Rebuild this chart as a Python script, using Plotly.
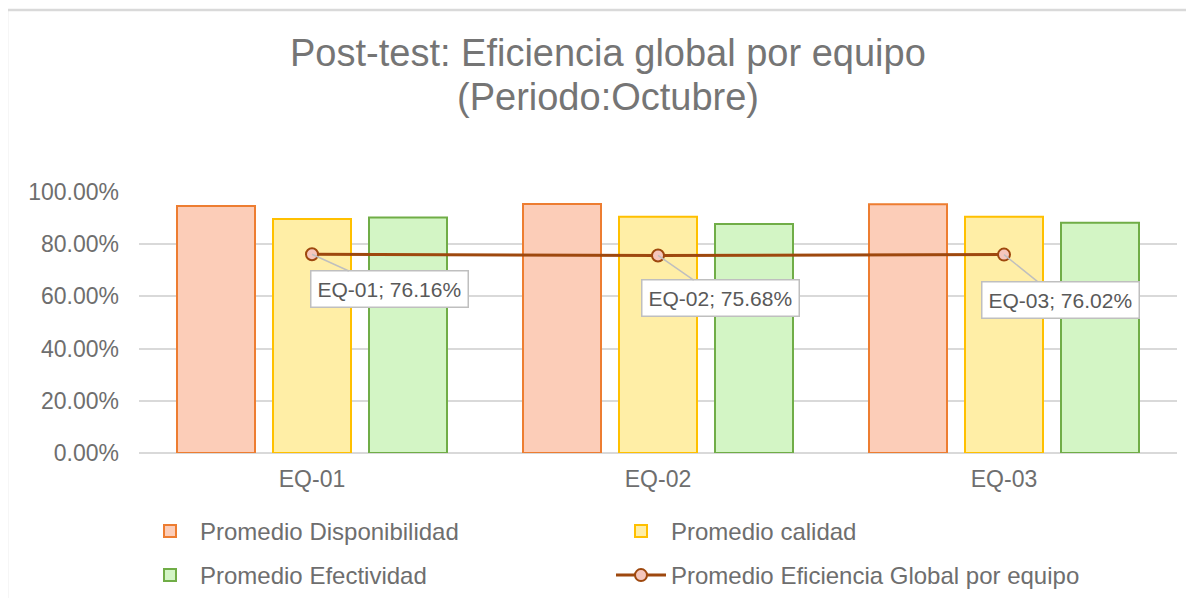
import plotly.graph_objects as go

categories = ["EQ-01", "EQ-02", "EQ-03"]
disponibilidad = [0.946, 0.954, 0.953]
calidad = [0.897, 0.905, 0.905]
efectividad = [0.902, 0.877, 0.882]
eficiencia = [0.7616, 0.7568, 0.7602]

series_names = ["Promedio Disponibilidad", "Promedio calidad", "Promedio Efectividad",
                "Promedio Eficiencia Global por equipo"]
title_line1 = "Post-test: Eficiencia global por equipo"
title_line2 = "(Periodo:Octubre)"
y_ticks = [0, 0.2, 0.4, 0.6, 0.8, 1.0]

W, H = 1194, 598
OFF = 8  # page body margin
# target plot area in page pixels
PL, PR, PT, PB = 139, 1177, 192, 453
ML, MT = PL - OFF, PT - OFF
MR, MB = W - (PR - OFF), H - (PB - OFF)
PW, PH = PR - PL, PB - PT


def px_x(x):  # page pixel -> paper x
    return (x - PL) / PW


def px_y(y):  # page pixel -> paper y
    return (PB - y) / PH


TXT = "#6e6e6e"
FONT = "Liberation Sans, Arial, sans-serif"

fig = go.Figure()
bar_styles = [
    (disponibilidad, "#FCCDB8", "#ED7D31", "legend"),
    (calidad, "#FFEEA6", "#FFC000", "legend"),
    (efectividad, "#D3F5C5", "#70AD47", "legend2"),
]
for (vals, fill, edge, lg), name in zip(bar_styles, series_names[:3]):
    fig.add_trace(go.Bar(
        x=categories, y=vals, name=name, legend=lg,
        marker=dict(color=fill, line=dict(color=edge, width=2)),
    ))

fig.add_trace(go.Scatter(
    x=categories, y=eficiencia, name=series_names[3], mode="lines+markers",
    legend="legend2",
    line=dict(color="#9E480E", width=3),
    marker=dict(symbol="circle", size=12, color="#F5C6BC",
                line=dict(color="#9E480E", width=2)),
))

offsets = [(77, 35), (62, 43), (56, 45)]
for cat, v, (ax, ay) in zip(categories, eficiencia, offsets):
    fig.add_annotation(
        x=cat, y=v, text=f"{cat}; {v*100:.2f}%", showarrow=True,
        ax=ax, ay=ay, arrowhead=0, arrowwidth=1.5, arrowcolor="#BFBFBF",
        bgcolor="white", bordercolor="#BFBFBF", borderwidth=1.5, borderpad=6,
        font=dict(size=21, color="#595959", family=FONT),
    )

# title, two lines placed separately to match line spacing
for txt, yc in [(title_line1, 53), (title_line2, 97)]:
    fig.add_annotation(
        xref="paper", yref="paper", x=px_x(608), y=px_y(yc),
        xanchor="center", yanchor="middle", showarrow=False, text=txt,
        font=dict(size=38, color="#757575", family=FONT),
    )

# outer chart frame
fig.add_shape(type="rect", xref="paper", yref="paper",
              x0=px_x(7), x1=px_x(W + 30),
              y0=px_y(H + 30), y1=px_y(10),
              line=dict(color="#D9D9D9", width=2.5), fillcolor="rgba(0,0,0,0)",
              layer="below")

legend_common = dict(orientation="h", xanchor="left", yanchor="top",
                     entrywidth=406, entrywidthmode="pixels", itemwidth=50,
                     traceorder="normal", bgcolor="rgba(0,0,0,0)",
                     font=dict(size=24, color=TXT, family=FONT))

fig.update_layout(
    width=W, height=H,
    margin=dict(l=ML, r=MR, t=MT, b=MB, autoexpand=False),
    paper_bgcolor="white", plot_bgcolor="white",
    font=dict(family=FONT, color=TXT, size=23),
    barmode="group", bargap=0.1676, bargroupgap=0.1875,
    showlegend=True,
    legend=dict(x=px_x(140), y=px_y(509), **legend_common),
    legend2=dict(x=px_x(140), y=px_y(553), **legend_common),
    xaxis=dict(showgrid=False, showline=False, ticks="", ticklabelstandoff=10,
               tickfont=dict(size=23, color=TXT)),
    yaxis=dict(range=[0, 1.0], tickvals=y_ticks, tickformat=".2%",
               showgrid=True, gridcolor="#D9D9D9", gridwidth=1.5,
               zeroline=True, zerolinecolor="#D9D9D9", zerolinewidth=1.5,
               showline=False, ticks="", ticklabelstandoff=19,
               tickfont=dict(size=23, color=TXT)),
)

fig.write_html("out.html")
